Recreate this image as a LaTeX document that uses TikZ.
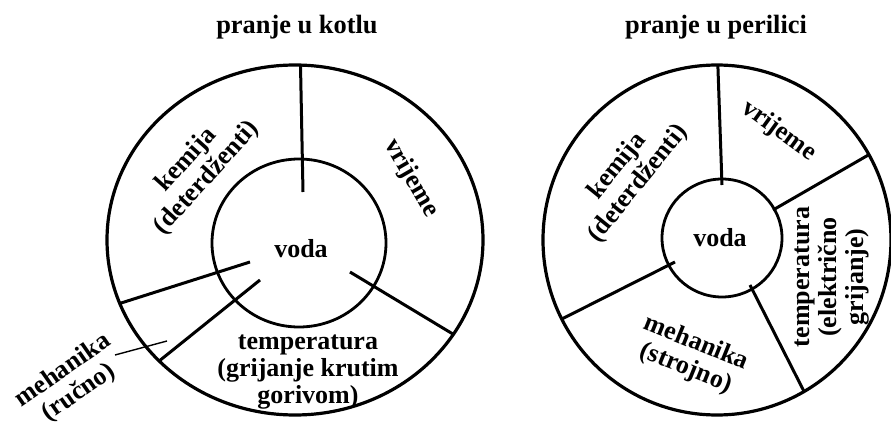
\documentclass[tikz,border=0pt]{standalone}
\usepackage{fontspec}
\setmainfont{Liberation Serif}
\usepackage{tikz}
\tikzset{
  ring/.style={draw=black, line width=1.6pt},
  hub/.style={draw=black, line width=1.4pt},
  spoke/.style={draw=black, line width=1.5pt},
  pointer/.style={draw=black, line width=0.7pt},
  lbl/.style={
    align=center, inner sep=0pt,
    font=\fontsize{13}{13.6}\selectfont\bfseries
  },
  title/.style={lbl, font=\fontsize{13.2}{14}\selectfont\bfseries}
}
\begin{document}
\begin{tikzpicture}[x=0.5pt, y=-0.5pt]
  \useasboundingbox (0,0) rectangle (891,423);

  % left: pranje u kotlu
  \coordinate (kotao) at (295,240);
  \coordinate (kotaoin) at (299,243);
  \begin{scope}
    \clip (kotao) ellipse [x radius=188, y radius=175];
    \draw[spoke] (303,192) -- (300,40);
    \draw[spoke] (250,262) -- (96,311);
    \draw[spoke] (260,280) -- (138,378);
    \draw[spoke] (350,272) -- (486,354);
  \end{scope}
  \draw[ring] (kotao) ellipse [x radius=188, y radius=175];
  \draw[hub] (kotaoin) ellipse [x radius=87, y radius=84];

  \node[title] (naslovL) at (297,27) {pranje u kotlu};
  \node[lbl, rotate=48] (kemL) at (197,169) {kemija\\(deterdženti)};
  \node[lbl, rotate=-60] (vrijL) at (411,178) {vrijeme};
  \node[lbl] (vodaL) at (301,249) {voda};
  \node[lbl] (tempL) at (308,372) {temperatura\\(grijanje krutim\\gorivom)};
  \node[lbl, rotate=35] (mehL) at (71,382) {mehanika\\(ručno)};
  \coordinate (mehod) at (115,355);
  \coordinate (mehdo) at (167,341);
  \draw[pointer] (mehod) -- (mehdo);

  % right: pranje u perilici
  \coordinate (perilica) at (717,240);
  \coordinate (perilicain) at (722,238);
  \begin{scope}
    \clip (perilica) ellipse [x radius=174, y radius=175];
    \draw[spoke] (722,185) -- (717,40);
    \draw[spoke] (773,210) -- (903,135);
    \draw[spoke] (750,285) -- (816,415);
    \draw[spoke] (675,262) -- (532,334);
  \end{scope}
  \draw[ring] (perilica) ellipse [x radius=174, y radius=175];
  \draw[hub] (perilicain) ellipse [x radius=60, y radius=59];

  \node[title] (naslovR) at (716,27) {pranje u perilici};
  \node[lbl, rotate=-36] (vrijR) at (779,131) {vrijeme};
  \node[lbl, rotate=51] (kemR) at (628,175) {kemija\\(deterdženti)};
  \node[lbl] (vodaR) at (720,238) {voda};
  \node[lbl, rotate=-22] (mehR) at (691,356) {mehanika\\(strojno)};
  \node[lbl, rotate=90] (tempR) at (832,277) {temperatura\\(električno\\grijanje)};

\end{tikzpicture}
\end{document}
